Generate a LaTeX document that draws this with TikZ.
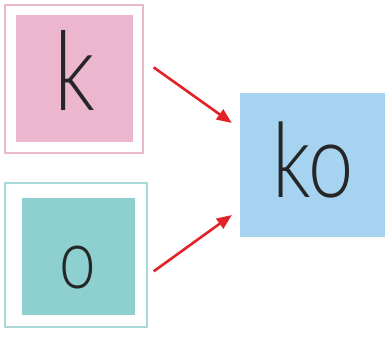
\documentclass[tikz,border=0pt]{standalone}
\usepackage{fontspec}
\setmainfont{Lato}[UprightFont=* Light]
\usetikzlibrary{arrows.meta, positioning}
\definecolor{rosa}{RGB}{236,182,206}
\definecolor{rosamarco}{RGB}{232,186,204}
\definecolor{verde}{RGB}{142,208,207}
\definecolor{verdemarco}{RGB}{170,216,216}
\definecolor{azul}{RGB}{166,211,240}
\definecolor{rojo}{RGB}{226,34,38}
\newcommand{\estrecha}[1]{\scalebox{0.78}[1]{#1}}
\tikzset{
  marco/.style={draw=#1, line width=1.3pt, inner sep=0pt},
  letra/.style={anchor=base, font=\fontsize{110}{110}\selectfont, text=black!85, inner sep=0pt},
  flecha/.style={draw=rojo, line width=2.6pt, -{Triangle[length=15pt,width=12pt]}}
}

\begin{document}
\begin{tikzpicture}[x=1pt,y=-1pt]
\useasboundingbox (0,0) rectangle (387,342);
% Marcos
\node[marco=rosamarco, minimum width=138pt, minimum height=148pt] (kmarco) at (74,79) {};
\node[marco=verdemarco, minimum width=142pt, minimum height=144pt] (omarco) at (76,255) {};
% Cajas de color
\node[fill=rosa, inner sep=0pt, minimum width=117pt, minimum height=127pt] (k) at (74.5,78.5) {};
\node[fill=verde, inner sep=0pt, minimum width=113pt, minimum height=117pt] (o) at (78.5,256.5) {};
\node[fill=azul, inner sep=0pt, minimum width=145pt, minimum height=144pt] (ko) at (312.5,165) {};
% Letras
\node[letra] (kletra) at (75,110) {\estrecha{k}};
\node[letra, font=\fontsize{84}{84}\selectfont] (oletra) at (77.5,288) {\estrecha{o}};
\node[letra, font=\fontsize{104}{104}\selectfont] (koletra) at (313,197) {\estrecha{ko}};
% Flechas
\coordinate (a1) at ([xshift=10pt, yshift=-63pt]kmarco.north east);
\coordinate (b1) at ([xshift=-8pt, yshift=42pt]ko.west);
\coordinate (a2) at ([xshift=6pt, yshift=-89pt]omarco.north east);
\coordinate (b2) at ([xshift=-8pt, yshift=-50pt]ko.west);
\draw[flecha] (a1) -- (b1);
\draw[flecha] (a2) -- (b2);
\end{tikzpicture}
\end{document}
